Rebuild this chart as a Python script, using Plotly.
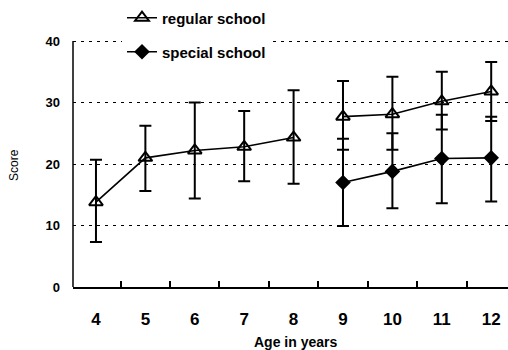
import plotly.graph_objects as go

ages = [4, 5, 6, 7, 8, 9, 10, 11, 12]
regular_mean = [13.8, 21.0, 22.2, 22.8, 24.3, 27.7, 28.1, 30.2, 31.8]
regular_upper = [20.7, 26.2, 30.0, 28.6, 32.0, 33.5, 34.2, 35.0, 36.6]
regular_lower = [7.3, 15.6, 14.4, 17.2, 16.8, 22.3, 22.3, 25.6, 27.0]

special_ages = [9, 10, 11, 12]
special_mean = [17.0, 18.8, 20.9, 21.0]
special_upper = [24.1, 25.0, 28.0, 27.7]
special_lower = [9.9, 12.8, 13.6, 13.9]

x_ticks = [4, 5, 6, 7, 8, 9, 10, 11, 12]
y_ticks = [0, 10, 20, 30, 40]

FONT = "Liberation Sans"

def err(mean, up, lo):
    return dict(type="data", symmetric=False,
                array=[u - m for u, m in zip(up, mean)],
                arrayminus=[m - l for m, l in zip(mean, lo)],
                color="black", thickness=2, width=6)

fig = go.Figure()
n1 = 5
for sl, show in [(slice(0, n1), True), (slice(n1, None), False)]:
    fig.add_trace(go.Scatter(
        x=ages[sl], y=regular_mean[sl], mode="lines+markers",
        name="regular school", showlegend=show, legend="legend",
        line=dict(color="black", width=1.6),
        marker=dict(symbol="triangle-up-open", size=12, color="black",
                    line=dict(width=2, color="black")),
        error_y=err(regular_mean[sl], regular_upper[sl], regular_lower[sl]),
    ))

fig.add_trace(go.Scatter(
    x=special_ages, y=special_mean, mode="lines+markers",
    name="special school", legend="legend2",
    line=dict(color="black", width=1.6),
    marker=dict(symbol="diamond", size=12, color="black"),
    error_y=err(special_mean, special_upper, special_lower),
))

T = 36
H = 287.0 - T
legend_font = dict(size=15, family=FONT, weight="bold")
fig.update_layout(
    width=508, height=350,
    margin=dict(l=73, r=0, t=T, b=63),
    paper_bgcolor="white", plot_bgcolor="white",
    font=dict(family=FONT, color="black"),
    legend=dict(x=(122 - 73) / 435, y=(287 - 18) / H, xanchor="left", yanchor="middle",
                bgcolor="white", font=legend_font, borderwidth=0, itemwidth=30),
    legend2=dict(x=(122 - 73) / 435, y=(287 - 52) / H, xanchor="left", yanchor="middle",
                 bgcolor="white", font=legend_font, borderwidth=0, itemwidth=30),
    xaxis=dict(range=[3.535, 12.34], tickvals=x_ticks,
               ticktext=[str(v) for v in x_ticks],
               tickfont=dict(size=17, family=FONT, weight="bold"),
               ticks="", showgrid=False, zeroline=False,
               showline=True, linecolor="black", linewidth=1.5,
               ticklabelstandoff=16,
               minor=dict(ticks="inside", tick0=3.5, dtick=1, ticklen=6,
                          tickcolor="black", tickwidth=1.5, showgrid=False)),
    yaxis=dict(range=[0, 40 * H / 246.0], tickvals=y_ticks,
               tickfont=dict(size=13, family=FONT, weight="bold"),
               ticks="", showgrid=True, gridcolor="black", gridwidth=1,
               griddash="3px,5px", zeroline=False,
               showline=False, ticklabelstandoff=12),
    shapes=[dict(type="line", xref="paper", yref="y", x0=0, x1=0,
                 y0=y_ticks[0], y1=y_ticks[-1],
                 line=dict(color="black", width=1.5), layer="above")],
    annotations=[
        dict(text="Age in years", xref="paper", yref="paper",
             x=(295 - 73) / 435, y=(287 - 342) / H, xanchor="center",
             yanchor="middle", showarrow=False,
             font=dict(size=14, family=FONT, weight="bold")),
        dict(text="Score", xref="paper", yref="paper",
             x=(14 - 73) / 435, y=(287 - 165) / H, xanchor="center",
             yanchor="middle", showarrow=False, textangle=-90,
             font=dict(size=12, family=FONT)),
    ],
)

fig.write_html("out.html")
